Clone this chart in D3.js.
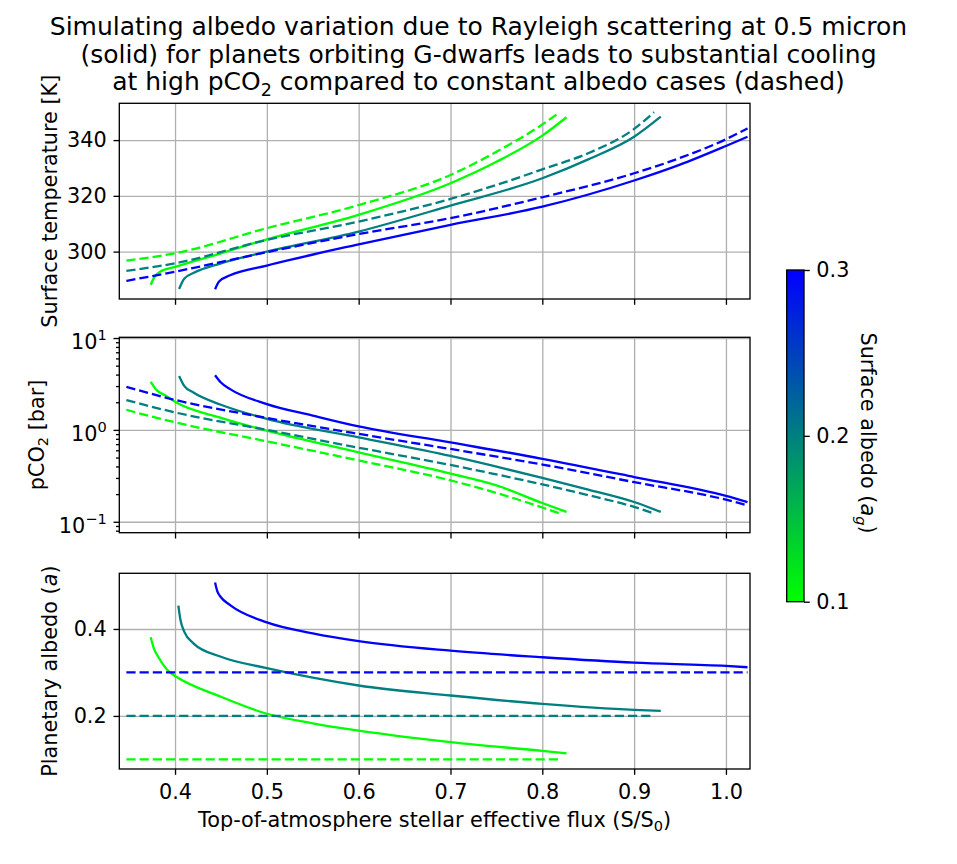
<!DOCTYPE html>
<html>
<head>
<meta charset="utf-8">
<script src="https://cdn.jsdelivr.net/npm/d3@7"></script>
<style>
body { margin: 0; background: #fff; }
text { font-family: "DejaVu Sans", sans-serif; fill: #000; }
</style>
</head>
<body>
<div id="chart"></div>
<script>
// surface albedo of each run (colour)
const surfaceAlbedo = [0.1, 0.2, 0.3]

// [flux S/S0, surface temperature K]  solid = Rayleigh albedo, dashed = constant albedo
const tempRay01 = [[0.3735, 288.1], [0.377, 290.6], [0.3836, 292.8], [0.4, 294.5], [0.45, 299.4], [0.5, 304.4], [0.6, 313.2], [0.7, 324.5], [0.75, 332.2], [0.8, 341.6], [0.8264, 348.2]]
const tempRay02 = [[0.4044, 286.6], [0.41, 290.3], [0.42, 292.3], [0.45, 295.8], [0.5, 300], [0.6, 307.2], [0.7, 316.5], [0.8, 326.3], [0.85, 333.1], [0.9, 341.2], [0.929, 348.4]]
const tempRay03 = [[0.4436, 286.5], [0.448, 289.3], [0.46, 291.5], [0.5, 295], [0.6, 302.6], [0.7, 309.6], [0.8, 316.1], [0.9, 325.5], [0.95, 331.2], [1.0, 337.9], [1.0235, 341.2]]
const tempConst01 = [[0.347, 296.8], [0.4, 299.4], [0.5, 308.4], [0.6, 316.7], [0.7, 327.5], [0.75, 335.8], [0.8, 345.6], [0.819, 350]]
const tempConst02 = [[0.347, 293.1], [0.4, 295.8], [0.5, 304.2], [0.6, 310.8], [0.7, 318.9], [0.75, 323.9], [0.8, 329.5], [0.85, 335.3], [0.9, 344], [0.9217, 350]]
const tempConst03 = [[0.347, 289.5], [0.4, 292.8], [0.5, 299.8], [0.6, 306.3], [0.7, 312], [0.8, 319.5], [0.9, 328.1], [0.95, 333.6], [1.0, 340.3], [1.0235, 344.2]]

// [flux, pCO2 bar]
const pco2Ray01 = [[0.3735, 3.34], [0.38, 2.71], [0.39, 2.35], [0.4, 2.02], [0.45, 1.35], [0.5, 0.98], [0.6, 0.57], [0.7, 0.335], [0.75, 0.249], [0.8, 0.16], [0.8264, 0.128]]
const pco2Ray02 = [[0.4044, 3.87], [0.41, 3.02], [0.42, 2.55], [0.45, 1.88], [0.5, 1.32], [0.6, 0.83], [0.7, 0.52], [0.8, 0.3], [0.85, 0.224], [0.9, 0.164], [0.929, 0.128]]
const pco2Ray03 = [[0.4436, 3.94], [0.45, 3.28], [0.46, 2.78], [0.5, 1.91], [0.55, 1.43], [0.6, 1.09], [0.7, 0.73], [0.8, 0.485], [0.9, 0.307], [1.0, 0.191], [1.0235, 0.164]]
const pco2Const01 = [[0.347, 1.65], [0.4, 1.21], [0.5, 0.75], [0.6, 0.465], [0.7, 0.282], [0.75, 0.206], [0.8, 0.143], [0.819, 0.123]]
const pco2Const02 = [[0.347, 2.11], [0.4, 1.55], [0.5, 1.0], [0.6, 0.64], [0.7, 0.415], [0.8, 0.255], [0.85, 0.195], [0.9, 0.145], [0.9217, 0.123]]
const pco2Const03 = [[0.347, 2.94], [0.4, 2.12], [0.5, 1.35], [0.6, 0.905], [0.7, 0.62], [0.8, 0.42], [0.9, 0.27], [1.0, 0.174], [1.0235, 0.151]]

// [flux, planetary albedo]  (constant-albedo runs sit at the surface albedo)
const albRay01 = [[0.3735, 0.381], [0.377, 0.355], [0.382, 0.335], [0.388, 0.315], [0.3945, 0.3], [0.4, 0.292], [0.45, 0.244], [0.5, 0.205], [0.55, 0.183], [0.6, 0.166], [0.65, 0.152], [0.7, 0.14], [0.8, 0.1195], [0.8264, 0.114]]
const albRay02 = [[0.4036, 0.4536], [0.406, 0.42], [0.41, 0.394], [0.42, 0.367], [0.45, 0.336], [0.5, 0.31], [0.55, 0.288], [0.6, 0.27], [0.7, 0.247], [0.8, 0.2276], [0.9, 0.2138], [0.929, 0.2115]]
const albRay03 = [[0.4436, 0.507], [0.446, 0.487], [0.45, 0.473], [0.46, 0.455], [0.5, 0.415], [0.55, 0.39], [0.6, 0.372], [0.7, 0.35], [0.8, 0.335], [0.9, 0.3225], [1.0, 0.315], [1.0235, 0.312]]

const fluxTicks = [0.4, 0.5, 0.6, 0.7, 0.8, 0.9, 1.0]
const tempTicks = [300, 320, 340]
const pco2Ticks = [0.1, 1, 10]
const albTicks = [0.2, 0.4]
const cbarTicks = [0.1, 0.2, 0.3]

const tempRay = [tempRay01, tempRay02, tempRay03]
const tempConst = [tempConst01, tempConst02, tempConst03]
const pco2Ray = [pco2Ray01, pco2Ray02, pco2Ray03]
const pco2Const = [pco2Const01, pco2Const02, pco2Const03]
const albRay = [albRay01, albRay02, albRay03]
const albConst = tempConst.map((run, i) => run.map(d => [d[0], surfaceAlbedo[i]]))

const width = 957
const height = 864
const fs = 20.8
const tick = 5.8
const lw = 1.33

const svg = d3.select('#chart').append('svg')
    .attr('width', width)
    .attr('height', height)

svg.append('rect').attr('width', width).attr('height', height).attr('fill', '#fff')

const color = d3.scaleLinear()
    .domain([0.1, 0.3])
    .range(['#00ff00', '#0000ff'])

const left = 119.3
const right = 750

const x = d3.scaleLinear().domain([0.3393, 1.0262]).range([left, right])

const panels = [
    {top: 103.3, bottom: 299, y: d3.scaleLinear().domain([283, 353.2]), solid: tempRay, dashed: tempConst, ticks: tempTicks},
    {top: 337.3, bottom: 532.7, y: d3.scaleLog().domain([Math.pow(10, -1.119), Math.pow(10, 1.008)]), solid: pco2Ray, dashed: pco2Const, ticks: pco2Ticks, log: true},
    {top: 573.3, bottom: 769, y: d3.scaleLinear().domain([0.078, 0.528]), solid: albRay, dashed: albConst, ticks: albTicks},
]

// small helper for text with sub/superscripts and italics
function richText(sel, parts, size) {
    let shift = 0
    parts.forEach(p => {
        const ts = sel.append('tspan').text(p.t)
        let target = 0
        if (p.sub) target = size * 0.22
        if (p.sup) target = -size * 0.42
        if (target !== shift) ts.attr('dy', target - shift)
        shift = target
        if (p.sub || p.sup) ts.attr('font-size', size * 0.7)
        if (p.italic) ts.attr('font-style', 'italic')
    })
}

function styleAxis(g) {
    g.select('.domain').remove()
    g.selectAll('.tick line').attr('stroke', '#000').attr('stroke-width', lw)
    g.selectAll('.tick text').attr('font-size', fs).attr('font-family', '"DejaVu Sans", sans-serif').attr('fill', '#000')
}

panels.forEach((p, pi) => {
    p.y.range([p.bottom, p.top])
    const g = svg.append('g')

    // grid
    g.append('g')
        .attr('transform', `translate(0, ${p.bottom})`)
        .call(d3.axisBottom(x).tickValues(fluxTicks).tickSize(-(p.bottom - p.top)).tickFormat(''))
        .call(a => a.select('.domain').remove())
        .selectAll('line').attr('stroke', '#b0b0b0').attr('stroke-width', lw)
    g.append('g')
        .attr('transform', `translate(${left}, 0)`)
        .call(d3.axisLeft(p.y).tickValues(p.ticks).tickSize(-(right - left)).tickFormat(''))
        .call(a => a.select('.domain').remove())
        .selectAll('line').attr('stroke', '#b0b0b0').attr('stroke-width', lw)

    const line = d3.line()
        .x(d => x(d[0]))
        .y(d => p.y(d[1]))
        .curve(d3.curveMonotoneX)

    surfaceAlbedo.forEach((ag, i) => {
        g.append('path')
            .attr('d', line(p.solid[i]))
            .attr('fill', 'none')
            .attr('stroke', color(ag))
            .attr('stroke-width', 2.3)
        g.append('path')
            .attr('d', line(p.dashed[i]))
            .attr('fill', 'none')
            .attr('stroke', color(ag))
            .attr('stroke-width', 2.3)
            .attr('stroke-dasharray', '9.2,4')
    })

    // x axis
    const xa = g.append('g')
        .attr('transform', `translate(0, ${p.bottom})`)
        .call(d3.axisBottom(x).tickValues(fluxTicks).tickSize(tick).tickPadding(9.7)
            .tickFormat(pi === 2 ? d3.format('.1f') : ''))
    styleAxis(xa)

    // y axis
    const ya = g.append('g')
        .attr('transform', `translate(${left}, 0)`)
        .call(d3.axisLeft(p.y).tickValues(p.ticks).tickSize(tick).tickPadding(6.8)
            .tickFormat(p.log ? '' : d3.format('')))
    styleAxis(ya)

    if (p.log) {
        ya.selectAll('.tick text').each(function (d) {
            const t = d3.select(this)
            const e = Math.round(Math.log10(d))
            richText(t, [{t: '10'}, {t: e < 0 ? '\u2212' + (-e) : String(e), sup: true}], fs)
            t.attr('dy', '0.5em')
        })
        const minor = []
        ;[0.01, 0.1, 1].forEach(b => d3.range(2, 10).forEach(m => minor.push(b * m)))
        const dom = p.y.domain()
        const ma = g.append('g')
            .attr('transform', `translate(${left}, 0)`)
            .call(d3.axisLeft(p.y).tickValues(minor.filter(v => v >= dom[0] && v <= dom[1])).tickSize(3.3).tickFormat(''))
        styleAxis(ma)
    }

    g.append('rect')
        .attr('x', left)
        .attr('y', p.top)
        .attr('width', right - left)
        .attr('height', p.bottom - p.top)
        .attr('fill', 'none')
        .attr('stroke', '#000')
        .attr('stroke-width', lw)
})

// y labels
const yLabels = [
    {x: 57, y: (103.3 + 299) / 2, parts: [{t: 'Surface temperature [K]'}]},
    {x: 43.5, y: (337.3 + 532.7) / 2, parts: [{t: 'pCO'}, {t: '2', sub: true}, {t: ' [bar]'}]},
    {x: 57, y: (573.3 + 769) / 2, parts: [{t: 'Planetary albedo ('}, {t: 'a', italic: true}, {t: ')'}]},
]
yLabels.forEach(l => {
    const t = svg.append('text')
        .attr('transform', `translate(${l.x}, ${l.y}) rotate(-90)`)
        .attr('text-anchor', 'middle')
        .attr('font-size', fs)
    richText(t, l.parts, fs)
})

// x label
const xl = svg.append('text')
    .attr('x', (left + right) / 2)
    .attr('y', 826.5)
    .attr('text-anchor', 'middle')
    .attr('font-size', fs)
richText(xl, [{t: 'Top-of-atmosphere stellar effective flux (S/S'}, {t: '0', sub: true}, {t: ')'}], fs)

// title
const titleLines = [
    [{t: 'Simulating albedo variation due to Rayleigh scattering at 0.5 micron'}],
    [{t: '(solid) for planets orbiting G-dwarfs leads to substantial cooling'}],
    [{t: 'at high pCO'}, {t: '2', sub: true}, {t: ' compared to constant albedo cases (dashed)'}],
]
titleLines.forEach((parts, i) => {
    const t = svg.append('text')
        .attr('x', width / 2)
        .attr('y', 35 + i * 27.5)
        .attr('text-anchor', 'middle')
        .attr('font-size', 25)
    richText(t, parts, 25)
})

// colorbar
const cb = {x0: 786.7, x1: 804, top: 270, bottom: 601.7}
const cy = d3.scaleLinear().domain([0.1, 0.3]).range([cb.bottom, cb.top])

const defs = svg.append('defs')
const grad = defs.append('linearGradient')
    .attr('id', 'cbar-grad')
    .attr('x1', 0).attr('y1', 1).attr('x2', 0).attr('y2', 0)
grad.selectAll('stop')
    .data(color.range())
    .enter().append('stop')
    .attr('offset', (d, i) => `${i * 100}%`)
    .attr('stop-color', d => d)

svg.append('rect')
    .attr('x', cb.x0)
    .attr('y', cb.top)
    .attr('width', cb.x1 - cb.x0)
    .attr('height', cb.bottom - cb.top)
    .attr('fill', 'url(#cbar-grad)')
    .attr('stroke', '#000')
    .attr('stroke-width', lw)

const ca = svg.append('g')
    .attr('transform', `translate(${cb.x1}, 0)`)
    .call(d3.axisRight(cy).tickValues(cbarTicks).tickSize(tick).tickPadding(6.5).tickFormat(d3.format('.1f')))
styleAxis(ca)

const cl = svg.append('text')
    .attr('transform', `translate(861, 433) rotate(90)`)
    .attr('text-anchor', 'middle')
    .attr('font-size', fs)
richText(cl, [{t: 'Surface albedo ('}, {t: 'a', italic: true}, {t: 'g', italic: true, sub: true}, {t: ')'}], fs)
</script>
</body>
</html>
